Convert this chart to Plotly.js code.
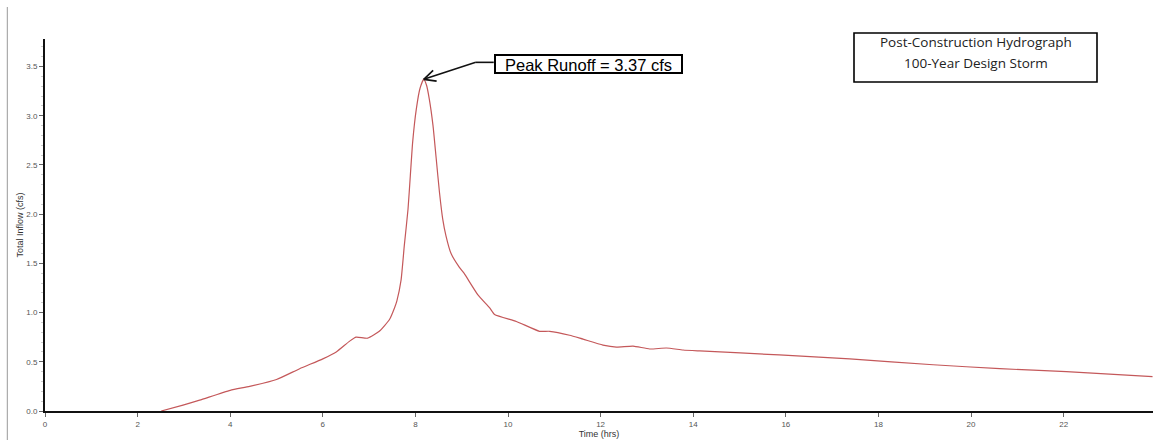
<!DOCTYPE html>
<html>
<head>
<meta charset="utf-8">
<script src="https://cdn.plot.ly/plotly-3.0.1.min.js"></script>
<style>
  html, body { margin: 0; padding: 0; background: #ffffff; }
  #chart { width: 1153px; height: 440px; }
</style>
</head>
<body>
<div id="chart"></div>
<script>
// Hydrograph values
const timeHrs = [
  2.51, 2.98, 3.34, 4.00, 4.42, 5.00, 5.50, 6.00, 6.29, 6.58, 6.72, 6.97,
  7.22, 7.44, 7.55, 7.60, 7.69, 7.76, 7.84, 7.89, 7.94, 8.02, 8.10, 8.18,
  8.24, 8.30, 8.38, 8.45, 8.52, 8.59, 8.66, 8.77, 8.95, 9.05, 9.35, 9.60,
  9.71, 10.18, 10.68, 10.90, 11.33, 11.62, 12.05, 12.34, 12.70, 13.06, 13.42,
  13.78, 14.14, 15.86, 17.38, 19.18, 20.62, 22.06, 23.92
];
const totalInflow = [
  0.00, 0.06, 0.11, 0.21, 0.25, 0.32, 0.43, 0.53, 0.60, 0.71, 0.75, 0.74,
  0.81, 0.93, 1.05, 1.12, 1.33, 1.68, 2.05, 2.39, 2.73, 3.07, 3.28, 3.37,
  3.31, 3.17, 2.90, 2.56, 2.22, 1.95, 1.78, 1.60, 1.46, 1.40, 1.18, 1.05,
  0.98, 0.91, 0.81, 0.81, 0.77, 0.73, 0.67, 0.65, 0.66, 0.63, 0.64,
  0.62, 0.61, 0.57, 0.53, 0.47, 0.43, 0.40, 0.35
];
const xTickVals = [0, 2, 4, 6, 8, 10, 12, 14, 16, 18, 20, 22];
const yTickVals = [0, 0.5, 1.0, 1.5, 2.0, 2.5, 3.0, 3.5];
const yTickText = ["0.0", "0.5", "1.0", "1.5", "2.0", "2.5", "3.0", "3.5"];
const titleLines = ["Post-Construction Hydrograph", "100-Year Design Storm"];
const xLabel = "Time (hrs)";
const yLabel = "Total Inflow (cfs)";

// peak
let pk = 0;
for (let i = 1; i < totalInflow.length; i++) if (totalInflow[i] > totalInflow[pk]) pk = i;
const peakT = timeHrs[pk], peakQ = totalInflow[pk];
const peakLabel = "Peak Runoff = " + peakQ.toFixed(2) + " cfs";

const xRange = [0, 23.93], yRange = [0, 3.78];
const W = 1153, H = 440, mL = 45, mR = 0, mT = 39, mB = 29;
const pxPerX = (W - mL - mR) / (xRange[1] - xRange[0]);
const pxPerY = (H - mT - mB) / (yRange[1] - yRange[0]);

// arrow tail (data units, from pixel offsets relative to the peak)
const tailT = peakT + 52 / pxPerX, tailQ = peakQ + 17 / pxPerY;
const boxLeftT = tailT + 18 / pxPerX;
// open V arrowhead
const dx = 52, dy = 17, len = Math.hypot(dx, dy);
const ux = dx / len, uy = dy / len, hl = 13, ang = 0.45;
function rot(a) {
  return [ux * Math.cos(a) - uy * Math.sin(a), ux * Math.sin(a) + uy * Math.cos(a)];
}
const h1 = rot(ang), h2 = rot(-ang);

function px2paperX(p) { return (p - mL) / (W - mL - mR); }
function px2paperY(p) { return (H - mB - p) / (H - mT - mB); }

const trace = {
  x: timeHrs, y: totalInflow, type: 'scatter', mode: 'lines',
  line: { color: '#c4585a', width: 1.2, shape: 'spline', smoothing: 0.5 },
  hoverinfo: 'skip', showlegend: false
};

const layout = {
  width: W, height: H,
  margin: { l: mL, r: mR, t: mT, b: mB, pad: 0 },
  paper_bgcolor: '#ffffff', plot_bgcolor: '#ffffff',
  font: { family: 'Arial, "Liberation Sans", sans-serif', color: '#555' },
  showlegend: false,
  xaxis: {
    range: xRange, showgrid: false, zeroline: false,
    showline: true, linecolor: '#111', linewidth: 2,
    ticks: 'outside', ticklen: 4, tickcolor: '#666', tickwidth: 1,
    tickvals: xTickVals, tickfont: { size: 8, color: '#555' },
    title: { text: xLabel, font: { size: 9, color: '#333' }, standoff: 1 },
    fixedrange: true
  },
  yaxis: {
    range: yRange, showgrid: false, zeroline: false,
    showline: true, linecolor: '#111', linewidth: 2,
    ticks: 'outside', ticklen: 4, tickcolor: '#666', tickwidth: 1,
    tickvals: yTickVals, ticktext: yTickText, tickfont: { size: 8, color: '#555' },
    minor: { dtick: 0.1, ticks: 'outside', ticklen: 2, tickcolor: '#ccc', showgrid: false },
    title: { text: yLabel, font: { size: 9, color: '#333' }, standoff: 1 },
    fixedrange: true
  },
  shapes: [
    // left border line
    { type: 'line', xref: 'paper', yref: 'paper',
      x0: px2paperX(7.3), x1: px2paperX(7.3), y0: px2paperY(7), y1: px2paperY(440),
      line: { color: '#999', width: 1 } },
    // peak label box
    { type: 'rect', xref: 'paper', yref: 'paper',
      x0: px2paperX(495), x1: px2paperX(682), y0: px2paperY(73), y1: px2paperY(55),
      line: { color: '#000', width: 2 }, fillcolor: '#fff' },
    // title box
    { type: 'rect', xref: 'paper', yref: 'paper',
      x0: px2paperX(854), x1: px2paperX(1097), y0: px2paperY(82), y1: px2paperY(33),
      line: { color: '#000', width: 1.6 }, fillcolor: '#fff' },
    // arrow: horizontal segment
    { type: 'line', xref: 'x', yref: 'y',
      x0: boxLeftT, y0: tailQ, x1: tailT, y1: tailQ,
      line: { color: '#111', width: 1.6 } },
    // arrow: diagonal
    { type: 'line', xref: 'x', yref: 'y',
      x0: tailT, y0: tailQ, x1: peakT, y1: peakQ,
      line: { color: '#111', width: 1.6 } },
    // arrowhead V
    { type: 'line', xref: 'x', yref: 'y',
      x0: peakT, y0: peakQ, x1: peakT + h1[0] * hl / pxPerX, y1: peakQ + h1[1] * hl / pxPerY,
      line: { color: '#111', width: 1.6 } },
    { type: 'line', xref: 'x', yref: 'y',
      x0: peakT, y0: peakQ, x1: peakT + h2[0] * hl / pxPerX, y1: peakQ + h2[1] * hl / pxPerY,
      line: { color: '#111', width: 1.6 } }
  ],
  annotations: [
    { xref: 'paper', yref: 'paper', x: px2paperX(588.5), y: px2paperY(64.5),
      xanchor: 'center', yanchor: 'middle', showarrow: false, text: peakLabel,
      font: { family: 'Arial, "Liberation Sans", sans-serif', size: 16.5, color: '#000' } },
    { xref: 'paper', yref: 'paper', x: px2paperX(975.5), y: px2paperY(42),
      xanchor: 'center', yanchor: 'middle', showarrow: false, text: titleLines[0],
      font: { family: '"Open Sans", sans-serif', size: 13.5, color: '#222' } },
    { xref: 'paper', yref: 'paper', x: px2paperX(975.5), y: px2paperY(63),
      xanchor: 'center', yanchor: 'middle', showarrow: false, text: titleLines[1],
      font: { family: '"Open Sans", sans-serif', size: 13.5, color: '#222' } }
  ]
};

Plotly.newPlot('chart', [trace], layout, { displayModeBar: false, staticPlot: true });
</script>
</body>
</html>
